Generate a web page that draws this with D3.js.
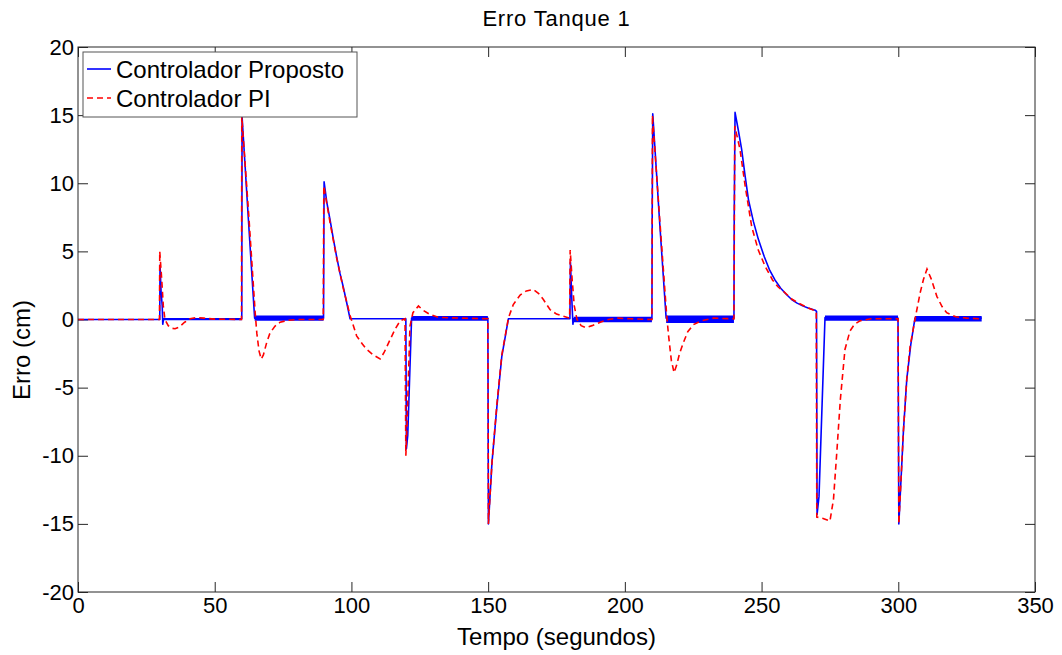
<!DOCTYPE html>
<html>
<head>
<meta charset="utf-8">
<script src="https://cdn.jsdelivr.net/npm/d3@7"></script>
<style>
  body { margin: 0; background: #fff; }
  text { font-family: "Liberation Sans", Arial, sans-serif; fill: #000; }
</style>
</head>
<body>
<svg id="chart"></svg>
<script>
// Tempo (s), erro (cm)
const proposto = [
  [0, 0], [29.9, 0], [30.0, 4.0], [30.4, 2.0], [30.8, 1.0], [31.0, -0.35], [31.3, 0.05],
  [59.9, 0.05], [60.0, 14.9], [62.3, 7.4], [64.6, 0.1],
  [89.8, 0.1], [90.0, 10.1], [91.0, 8.6], [92.2, 7.3], [93.4, 5.9], [94.6, 4.6], [95.8, 3.4],
  [97.0, 2.4], [98.2, 1.3], [99.5, 0.05],
  [119.9, 0.05], [120.1, -9.5], [120.6, -8.5], [122.0, 0.1],
  [149.9, 0.1], [150.1, -15], [151.4, -10.5], [153.2, -6.4], [155.0, -2.7], [157.4, 0.05],
  [179.9, 0.05], [180.1, 4.2], [180.6, 1.5], [181.0, -0.35], [181.3, 0.05],
  [209.9, 0.05], [210.0, 7.6], [210.2, 15.1], [212.6, 7.5], [215.1, 0.1],
  [239.9, 0.1], [240.0, 7.6], [240.3, 15.2], [241.4, 14.0], [242.7, 12.5], [244.0, 10.5],
  [245.2, 8.8], [247.0, 7.2], [248.8, 5.9], [251.0, 4.6], [253.0, 3.6], [254.9, 2.9],
  [257.0, 2.3], [259.0, 1.85], [261.0, 1.47], [263.0, 1.2], [265.0, 1.0], [267.0, 0.85],
  [269.6, 0.68], [270.1, 0.6], [270.3, -14.3], [271.0, -13.0], [273.2, 0.15],
  [299.9, 0.1], [300.2, -15], [301.9, -8.1], [303.1, -4.4], [304.6, -1.8], [306.1, 0.1],
  [330.5, 0.1]
];

const controladorPI = [
  [0, 0], [29.8, 0], [29.9, 5.0], [30.6, 3.0], [31.2, 1.0], [31.8, 0], [33.0, -0.45],
  [34.5, -0.65], [35.5, -0.68], [37.0, -0.55], [39.0, -0.2], [41.0, 0.05], [43.5, 0.15],
  [46.0, 0.1], [50.0, 0.03],
  [59.8, 0], [59.9, 14.9], [62.5, 7.5], [64.8, 0.5], [65.4, -1.0], [66.2, -2.3], [67.0, -2.9],
  [67.8, -2.6], [69.0, -1.7], [70.2, -1.0], [72.0, -0.5], [73.9, -0.2], [77.0, -0.05], [80.0, 0],
  [89.7, 0], [89.9, 9.8], [91.0, 8.5], [92.2, 7.1], [94.6, 4.5], [97.0, 2.3], [99.5, 0.3],
  [101.9, -1.2], [104.0, -1.8], [105.6, -2.2], [108.0, -2.6], [110.5, -2.9], [112.0, -2.4],
  [114.1, -1.5], [116.0, -0.7], [117.8, -0.1], [119.6, 0.05],
  [119.9, -10], [120.3, -8], [121.4, -0.5], [122.5, 0.5], [124.5, 1.0], [126.0, 0.7],
  [128.7, 0.37], [132.0, 0.15], [140.0, 0.1],
  [149.9, 0.05], [150.1, -15], [151.4, -10.5], [153.2, -6.2], [155.0, -2.6], [157.4, 0.1],
  [159.2, 1.1], [161.7, 1.8], [164.0, 2.1], [166.5, 2.2], [168.5, 1.9], [170.2, 1.47],
  [172.6, 0.73], [175.0, 0.4], [177.5, 0.24],
  [179.8, 0.1], [180.0, 5.1], [180.7, 3.0], [181.5, 1.0], [182.5, 0], [184.0, -0.45],
  [185.8, -0.6], [188.0, -0.45], [191.0, -0.2], [194.0, 0], [197.5, 0.1], [202.0, 0.05],
  [209.9, 0], [210.1, 15.0], [212.7, 7.5], [215.3, 0.3], [216.0, -1.2], [217.0, -3.0],
  [218.0, -3.9], [219.0, -3.3], [220.0, -2.5], [221.4, -1.7], [223.0, -0.9], [225.1, -0.37],
  [228.0, -0.1], [232.4, 0.1],
  [239.9, 0.05], [240.2, 14.2], [242.1, 12.5], [244.0, 9.8], [246.4, 6.8], [248.8, 5.1],
  [251.3, 3.9], [254.0, 2.9], [256.0, 2.4], [258.6, 1.96], [261.0, 1.5], [264.0, 1.15],
  [267.0, 0.85], [270.0, 0.6],
  [270.2, -14.5], [272.5, -14.6], [275.0, -14.8], [276.3, -13.2], [277.6, -9.5], [278.8, -5.9],
  [280.5, -2.2], [282.3, -0.86], [284.0, -0.35], [286.0, -0.1], [290.0, 0.05],
  [299.9, 0.05], [300.2, -15], [301.9, -8.1], [303.1, -4.4], [304.3, -2.0], [306.1, 0],
  [308.0, 1.96], [309.2, 2.93], [310.5, 3.7], [312.0, 3.0], [314.1, 1.7], [316.0, 0.95],
  [317.7, 0.5], [321.0, 0.2], [325.0, 0.1], [330.5, 0.05]
];

// chattering of the proposed controller: [start, end, low, high]
const noiseBands = [
  [31.3, 59.9, -0.05, 0.1],
  [64.6, 89.8, -0.1, 0.3],
  [122.0, 149.9, -0.1, 0.25],
  [181.3, 209.9, -0.2, 0.2],
  [215.1, 239.9, -0.25, 0.3],
  [273.2, 299.9, -0.1, 0.3],
  [306.1, 330.5, -0.15, 0.25]
];

const xTicks = [0, 50, 100, 150, 200, 250, 300, 350];
const yTicks = [-20, -15, -10, -5, 0, 5, 10, 15, 20];
const seriesNames = ['Controlador Proposto', 'Controlador PI'];

const width = 1062, height = 655;
const margin = {top: 47, right: 27, bottom: 63, left: 78};
const innerW = width - margin.left - margin.right;
const innerH = height - margin.top - margin.bottom;

const svg = d3.select('#chart')
  .attr('width', width)
  .attr('height', height);

svg.append('rect').attr('width', width).attr('height', height).attr('fill', '#fff');

const chart = svg.append('g')
  .attr('transform', `translate(${margin.left},${margin.top})`);

const xScale = d3.scaleLinear().domain([0, 350]).range([0, innerW]);
const yScale = d3.scaleLinear().domain([-20, 20]).range([innerH, 0]);

// Axes: MATLAB style, ticks pointing inward on all four sides
const tickLen = 10;
const axisColor = '#262626';
const plainFmt = d => String(d);  // hyphen minus, like the original

const xAxisG = chart.append('g')
  .attr('transform', `translate(0,${innerH})`)
  .call(d3.axisBottom(xScale).tickValues(xTicks).tickSize(-tickLen).tickPadding(5).tickFormat(plainFmt));
const xTopG = chart.append('g')
  .call(d3.axisTop(xScale).tickValues(xTicks).tickSize(-tickLen).tickFormat(''));
const yAxisG = chart.append('g')
  .call(d3.axisLeft(yScale).tickValues(yTicks).tickSize(-tickLen).tickPadding(4).tickFormat(plainFmt));
const yRightG = chart.append('g')
  .attr('transform', `translate(${innerW},0)`)
  .call(d3.axisRight(yScale).tickValues(yTicks).tickSize(-tickLen).tickFormat(''));

[xAxisG, xTopG, yAxisG, yRightG].forEach(g => {
  g.select('.domain').remove();
  g.selectAll('line').attr('stroke', axisColor).attr('stroke-width', 1);
  g.selectAll('text')
    .style('font-family', '"Liberation Sans", Arial, sans-serif')
    .style('font-size', '22px')
    .attr('fill', '#000');
});
xAxisG.selectAll('text').attr('dy', '0.72em');

// Chattering bands drawn as filled areas
const band = d3.area()
  .x(d => xScale(d[0]))
  .y0(d => yScale(d[1]))
  .y1(d => yScale(d[2]));

chart.selectAll('.band')
  .data(noiseBands)
  .join('path')
  .attr('class', 'band')
  .attr('fill', '#0000ff')
  .attr('d', b => band([[b[0], b[2], b[3]], [b[1], b[2], b[3]]]));

const line = d3.line()
  .x(d => xScale(d[0]))
  .y(d => yScale(d[1]));

chart.append('path')
  .datum(proposto)
  .attr('fill', 'none')
  .attr('stroke', '#0000ff')
  .attr('stroke-width', 1.6)
  .attr('stroke-linejoin', 'round')
  .attr('d', line);

chart.append('path')
  .datum(controladorPI)
  .attr('fill', 'none')
  .attr('stroke', '#ff0000')
  .attr('stroke-width', 1.6)
  .attr('stroke-dasharray', '6,4')
  .attr('d', line);

// Box
chart.append('rect')
  .attr('width', innerW)
  .attr('height', innerH)
  .attr('fill', 'none')
  .attr('stroke', axisColor)
  .attr('stroke-width', 1);

// Title and axis labels
svg.append('text')
  .attr('x', margin.left + innerW / 2)
  .attr('y', 26)
  .attr('text-anchor', 'middle')
  .style('font-size', '22px')
  .style('letter-spacing', '0.8px')
  .text('Erro Tanque 1');

svg.append('text')
  .attr('x', margin.left + innerW / 2)
  .attr('y', 645)
  .attr('text-anchor', 'middle')
  .style('font-size', '24px')
  .text('Tempo (segundos)');

svg.append('text')
  .attr('transform', 'translate(30,350) rotate(-90)')
  .attr('text-anchor', 'middle')
  .style('font-size', '24px')
  .text('Erro (cm)');

// Legend
const legend = svg.append('g').attr('transform', 'translate(83,52)');
legend.append('rect')
  .attr('width', 274)
  .attr('height', 65)
  .attr('fill', '#fff')
  .attr('stroke', '#555')
  .attr('stroke-width', 1);

const legendStyles = [
  {color: '#0000ff', dash: null},
  {color: '#ff0000', dash: '6,4'}
];

seriesNames.forEach((name, i) => {
  const y = 17 + i * 29;
  legend.append('line')
    .attr('x1', 4).attr('x2', 28)
    .attr('y1', y).attr('y2', y)
    .attr('stroke', legendStyles[i].color)
    .attr('stroke-width', 1.6)
    .attr('stroke-dasharray', legendStyles[i].dash);
  legend.append('text')
    .attr('x', 33)
    .attr('y', y + 9)
    .style('font-size', '24px')
    .text(name);
});
</script>
</body>
</html>
